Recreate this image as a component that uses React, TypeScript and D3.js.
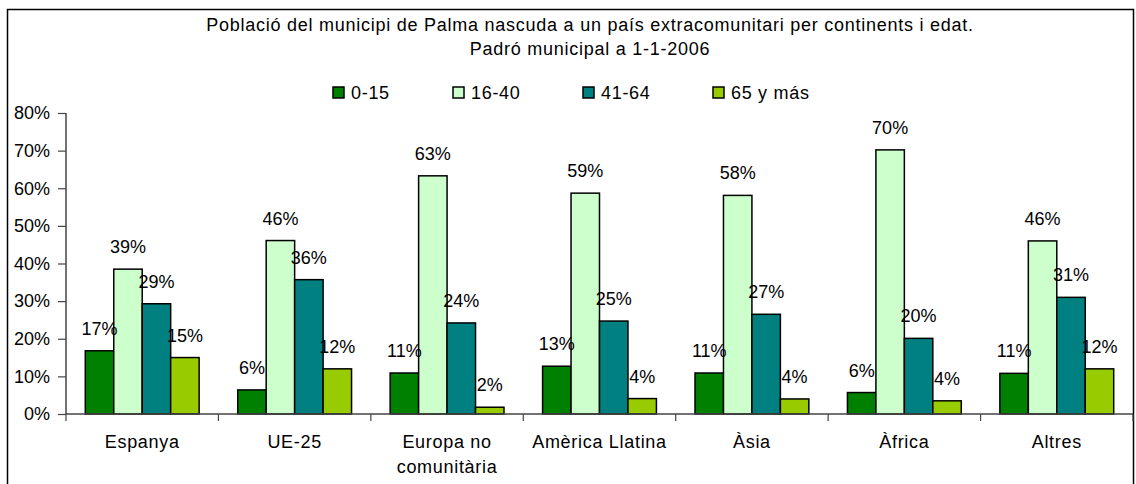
import { useEffect, useRef } from "react";
import * as d3 from "d3";

const categories = ["Espanya", "UE-25", "Europa no\ncomunitària", "Amèrica Llatina", "Àsia", "Àfrica", "Altres"];
const seriesNames = ["0-15", "16-40", "41-64", "65 y más"];
const age0_15 = [16.8, 6.4, 10.9, 12.7, 10.9, 5.7, 10.8];
const age16_40 = [38.5, 46.1, 63.3, 58.7, 58.1, 70.2, 46.0];
const age41_64 = [29.3, 35.7, 24.2, 24.7, 26.5, 20.1, 31.0];
const age65 = [15.0, 12.0, 1.8, 4.1, 4.0, 3.5, 12.0];
const yTicks = [0, 10, 20, 30, 40, 50, 60, 70, 80];
const colors = ["#008000", "#CCFFCC", "#008080", "#99CC00"];

const width = 1136, height = 484;
const font = "'Liberation Sans', Arial, sans-serif";
const fs = 18;

const App = () => {
  const ref = useRef(null);

  useEffect(() => {
    const svg = d3.select(ref.current)
      .append("svg")
      .attr("width", width)
      .attr("height", height)
      .style("position", "absolute")
      .style("left", 0)
      .style("top", 0)
      .style("font-family", font);

    const values = [age0_15, age16_40, age41_64, age65];

    // frame
    svg.append("rect")
      .attr("x", 7.5).attr("y", 9.5)
      .attr("width", 1126).attr("height", 490)
      .attr("fill", "white").attr("stroke", "black").attr("stroke-width", 1.5);

    // title
    const title = svg.append("text").attr("text-anchor", "middle").attr("font-size", fs)
      .attr("letter-spacing", 0.75).attr("fill", "black");
    title.append("tspan").attr("x", 590).attr("y", 31).text("Població del municipi de Palma nascuda a un país extracomunitari per continents i edat.");
    title.append("tspan").attr("x", 590).attr("y", 55).text("Padró municipal a 1-1-2006");

    const x0 = d3.scaleBand().domain(categories).range([66, 1133]).padding(0);
    const x1 = d3.scaleBand().domain(seriesNames).range([19.3, x0.bandwidth() - 19.3]).padding(0);
    const y = d3.scaleLinear().domain([0, 80]).range([414, 113]);

    // legend
    const legendX = [333, 453, 583, 713];
    const legend = svg.append("g").selectAll("g").data(seriesNames).join("g")
      .attr("transform", (_d, i) => `translate(${legendX[i]},87)`);
    legend.append("rect").attr("width", 11).attr("height", 11)
      .attr("fill", (_d, i) => colors[i]).attr("stroke", "black").attr("stroke-width", 1.5);
    legend.append("text").attr("x", 18).attr("y", 12).attr("font-size", fs)
      .attr("letter-spacing", 0.7).text(d => d);

    // y axis
    const yAxis = svg.append("g")
      .attr("transform", "translate(66,0)")
      .call(d3.axisLeft(y).tickValues(yTicks).tickSize(8).tickPadding(8).tickFormat(d => `${d}%`));
    yAxis.select(".domain").attr("stroke", "#444").attr("stroke-width", 1.5).attr("d", "M0,113V414");
    yAxis.selectAll(".tick line").attr("stroke", "#444").attr("stroke-width", 1.2);
    yAxis.selectAll(".tick text").attr("font-size", fs).attr("font-family", font).attr("fill", "black");

    // bars
    const groups = svg.append("g").selectAll("g").data(categories).join("g")
      .attr("transform", d => `translate(${x0(d)},0)`);
    groups.selectAll("rect")
      .data((_d, ci) => seriesNames.map((s, si) => ({ s, si, v: values[si][ci] })))
      .join("rect")
      .attr("x", d => x1(d.s) as number)
      .attr("y", d => y(d.v))
      .attr("width", x1.bandwidth())
      .attr("height", d => y(0) - y(d.v))
      .attr("fill", d => colors[d.si])
      .attr("stroke", "black").attr("stroke-width", 1.5);

    groups.selectAll("text.lbl")
      .data((_d, ci) => seriesNames.map((s, si) => ({ s, si, v: values[si][ci] })))
      .join("text")
      .attr("class", "lbl")
      .attr("x", d => (x1(d.s) as number) + x1.bandwidth() / 2)
      .attr("y", d => y(d.v) - 16)
      .attr("text-anchor", "middle")
      .attr("font-size", fs)
      .text(d => `${Math.round(d.v)}%`);

    // x axis
    const xAxis = svg.append("g")
      .attr("transform", "translate(0,414)")
      .call(d3.axisBottom(x0).tickSize(0).tickFormat(() => ""));
    xAxis.select(".domain").attr("stroke", "#444").attr("stroke-width", 1.5).attr("d", "M66,0H1133");
    svg.append("g").selectAll("line").data(d3.range(categories.length + 1)).join("line")
      .attr("x1", i => 66 + i * x0.step()).attr("x2", i => 66 + i * x0.step())
      .attr("y1", 414).attr("y2", 421)
      .attr("stroke", "#444").attr("stroke-width", 1.2);

    const catLabels = svg.append("g").selectAll("text").data(categories).join("text")
      .attr("text-anchor", "middle")
      .attr("font-size", fs)
      .attr("letter-spacing", 0.7)
      .attr("fill", "black");
    catLabels.each(function (d) {
      const t = d3.select(this);
      const cx = (x0(d) as number) + x0.bandwidth() / 2;
      d.split("\n").forEach((line, i) => {
        t.append("tspan").attr("x", cx).attr("y", 448 + i * 25).text(line);
      });
    });

    return () => {
      d3.select(ref.current).select("svg").remove();
    };
  }, []);

  return <div ref={ref}></div>;
};

export default App;
